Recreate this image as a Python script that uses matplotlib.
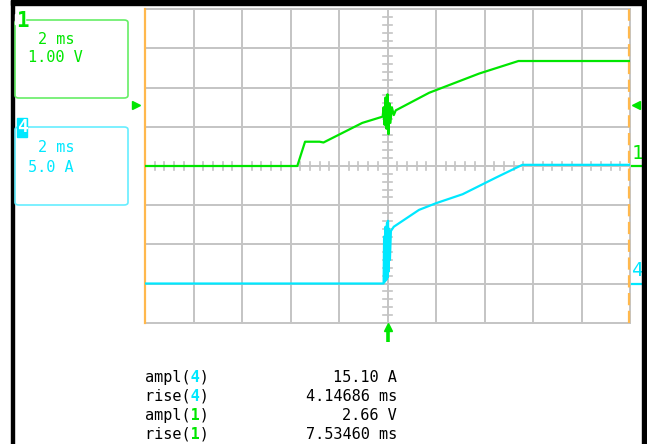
import numpy as np
import matplotlib.pyplot as plt
from matplotlib.patches import FancyBboxPatch, Rectangle

W, H = 647, 444

# channel 1 (green, 1.00 V/div) - divisions vs time divisions (2 ms/div)
ch1_t = [-5.0, -1.86, -1.70, -1.40, -1.32, -0.52, -0.10, -0.08, -0.06, -0.04,
         -0.02, 0.0, 0.02, 0.04, 0.06, 0.09, 0.13, 0.17, 0.86, 1.89, 2.70, 5.0]
ch1_v = [0.0, 0.0, 0.62, 0.62, 0.60, 1.10, 1.26, 1.50, 1.05, 1.75,
         0.95, 1.83, 0.81, 1.60, 1.10, 1.50, 1.30, 1.42, 1.87, 2.36, 2.68, 2.68]

# channel 4 (cyan, 5.0 A/div)
ch4_t = [-5.0, -0.08, -0.07, -0.05, -0.04, -0.02, -0.01, 0.0, 0.01, 0.02,
         0.03, 0.05, 0.07, 0.13, 0.65, 1.00, 1.55, 2.23, 2.78, 5.0]
ch4_v = [-3.0, -3.0, -1.80, -2.95, -1.55, -2.90, -1.45, -2.85, -1.40, -2.70,
         -1.60, -2.40, -1.66, -1.55, -1.12, -0.95, -0.72, -0.30, 0.03, 0.03]

meas_names = ["ampl(", "rise(", "ampl(", "rise("]
meas_ch = ["4", "4", "1", "1"]
meas_vals = ["15.10 A", "4.14686 ms", "2.66 V", "7.53460 ms"]

GREEN = "#00e600"
CYAN = "#00e8ff"
ORANGE = "#ffb84d"
GRID = "#c4c4c4"
MONO = "DejaVu Sans Mono"


def fx(px):
    return px / W


def fy(py):
    return 1 - py / H


fig = plt.figure(figsize=(W / 100, H / 100), dpi=100)
fig.patch.set_facecolor("white")

ax = fig.add_axes([fx(145), fy(322.7), fx(630) - fx(145), fy(9.3) - fy(322.7)])
ax.set_xlim(-5, 5)
ax.set_ylim(-4, 4)
for v in range(-4, 5):
    ax.axhline(v, color=GRID, lw=1.4, zorder=1, clip_on=False)
for v in range(-5, 6):
    ax.axvline(v, color=GRID, lw=1.4, zorder=1, clip_on=False)
# center cross minor ticks
for y in np.arange(-4, 4.01, 0.2):
    ax.plot([-0.1, 0.1], [y, y], color=GRID, lw=1.2, zorder=1)
for x in np.arange(-5, 5.01, 0.2):
    ax.plot([x, x], [-0.1, 0.1], color=GRID, lw=1.2, zorder=1)
ax.set_xticks([])
ax.set_yticks([])
for s in ax.spines.values():
    s.set_visible(False)

ax.axvline(-5, color=ORANGE, lw=1.6, zorder=2, clip_on=False)
ax.axvline(4.98, color=ORANGE, lw=1.6, ls=(0, (5.5, 2.5)), zorder=2, clip_on=False)

ax.plot(ch1_t, ch1_v, color=GREEN, lw=1.6, zorder=3)
ax.plot(ch4_t, ch4_v, color=CYAN, lw=1.6, zorder=3)

# trigger level and channel markers
ax.plot([-5.18], [1.55], marker=">", color=GREEN, ms=6, clip_on=False)
ax.plot([5.12], [1.55], marker="<", color=GREEN, ms=6, clip_on=False)
ax.plot([5.05, 5.22], [0, 0], color=GREEN, lw=1.6, clip_on=False)
ax.text(5.04, 0.08, "1", color=GREEN, fontsize=14, family=MONO,
        ha="left", va="bottom", clip_on=False)
ax.plot([5.05, 5.22], [-3, -3], color=CYAN, lw=1.6, clip_on=False)
ax.text(5.04, -2.92, "4", color=CYAN, fontsize=14, family=MONO,
        ha="left", va="bottom", clip_on=False)
# trigger position arrow
ax.plot([0, 0], [-4.15, -4.48], color=GREEN, lw=2.6, clip_on=False,
        solid_capstyle="butt")
ax.plot([0], [-4.1], marker="^", color=GREEN, ms=6, clip_on=False)

# black frame
fig.patches.append(Rectangle((fx(11), 0), fx(3), 1, transform=fig.transFigure,
                             color="black"))
fig.patches.append(Rectangle((fx(642), 0), fx(5), 1, transform=fig.transFigure,
                             color="black"))
fig.patches.append(Rectangle((fx(11), fy(5)), 1, fy(0) - fy(5),
                             transform=fig.transFigure, color="black"))

# channel info boxes
for top, col in [(20, "#66ee66"), (127, "#66eeff")]:
    fig.patches.append(FancyBboxPatch((fx(15), fy(top + 78)), fx(113), fy(top) - fy(top + 78),
                                      boxstyle="round,pad=0,rounding_size=0.006",
                                      transform=fig.transFigure, fill=False,
                                      ec=col, lw=1.2))
fig.patches.append(Rectangle((fx(15.5), fy(24)), fx(10), fy(14) - fy(24),
                             transform=fig.transFigure, color="white"))
fig.text(fx(16), fy(21), "1", color=GREEN, fontsize=15, fontweight="bold",
         family=MONO, ha="left", va="center")
fig.text(fx(38), fy(39), "2 ms", color=GREEN, fontsize=11, family=MONO, va="center")
fig.text(fx(28), fy(58), "1.00 V", color=GREEN, fontsize=11, family=MONO, va="center")

fig.patches.append(Rectangle((fx(17), fy(137)), fx(10), fy(118) - fy(137),
                             transform=fig.transFigure, color=CYAN))
fig.text(fx(22), fy(127.5), "4", color="white", fontsize=13, fontweight="bold",
         family=MONO, ha="center", va="center")
fig.text(fx(38), fy(147), "2 ms", color=CYAN, fontsize=11, family=MONO, va="center")
fig.text(fx(28), fy(167), "5.0 A", color=CYAN, fontsize=11, family=MONO, va="center")

# measurements
rows_y = [377, 396, 415, 434]
for name, ch, val, y in zip(meas_names, meas_ch, meas_vals, rows_y):
    col = CYAN if ch == "4" else GREEN
    fig.text(fx(145), fy(y), name + " )", color="black", fontsize=11,
             family=MONO, va="center")
    fig.text(fx(145), fy(y), " " * len(name) + ch + " ", color=col, fontsize=11,
             family=MONO, va="center", fontweight="bold")
    fig.text(fx(397), fy(y), val, color="black", fontsize=11, family=MONO,
             va="center", ha="right")

fig.savefig("out.png", dpi=100)
